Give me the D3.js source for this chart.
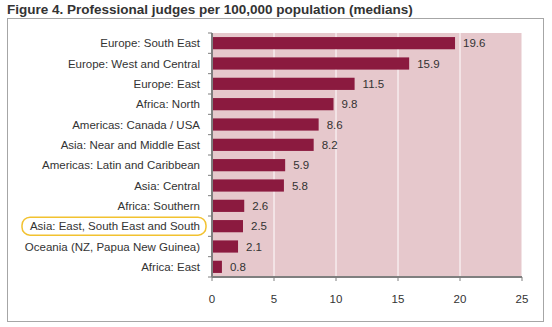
<!DOCTYPE html>
<html><head><meta charset="utf-8">
<script src="https://cdn.jsdelivr.net/npm/d3@7"></script>
<style>body{margin:0;background:#fff}svg{display:block}</style>
</head><body>
<script>
const categories = ["Europe: South East","Europe: West and Central","Europe: East","Africa: North","Americas: Canada / USA","Asia: Near and Middle East","Americas: Latin and Caribbean","Asia: Central","Africa: Southern","Asia: East, South East and South","Oceania (NZ, Papua New Guinea)","Africa: East"];
const values = [19.6,15.9,11.5,9.8,8.6,8.2,5.9,5.8,2.6,2.5,2.1,0.8];
const xTicks = [0,5,10,15,20,25];
const highlighted = "Asia: East, South East and South";

const W=552,H=327;
const svg=d3.select("body").append("svg").attr("width",W).attr("height",H);
const font="Liberation Sans, Arial, sans-serif";

svg.append("text").attr("x",7).attr("y",14).attr("font-family",font).attr("font-weight","bold")
  .attr("font-size",13.5).attr("fill","#333").text("Figure 4. Professional judges per 100,000 population (medians)");

svg.append("rect").attr("x",7.5).attr("y",18.5).attr("width",536).attr("height",303)
  .attr("fill","#fff").attr("stroke","#a6a6a6").attr("stroke-width",1);

const m={l:212,r:522,t:33,b:277};
const x=d3.scaleLinear().domain([0,25]).range([m.l,m.r]);
const y=d3.scaleBand().domain(categories).range([m.t,m.b]).paddingInner(0.4).paddingOuter(0.2);

svg.append("rect").attr("x",m.l).attr("y",m.t).attr("width",m.r-m.l).attr("height",m.b-m.t).attr("fill","#e6c8cc");

svg.append("g").selectAll("line").data(xTicks.slice(1)).join("line")
  .attr("x1",d=>x(d)).attr("x2",d=>x(d)).attr("y1",m.t).attr("y2",m.b)
  .attr("stroke","#fff").attr("stroke-width",1);

svg.append("g").selectAll("rect").data(categories).join("rect")
  .attr("x",x(0)).attr("y",d=>y(d)).attr("height",y.bandwidth())
  .attr("width",(d,i)=>x(values[i])-x(0)).attr("fill","#8b1a3f");

svg.append("g").selectAll("text").data(categories).join("text")
  .attr("x",(d,i)=>x(values[i])+8).attr("y",d=>y(d)+y.bandwidth()/2).attr("dy","0.35em")
  .attr("font-family",font).attr("font-size",11.5).attr("fill","#333").text((d,i)=>values[i]);

// y axis
const yAxis=svg.append("g").attr("transform",`translate(${m.l},0)`);
yAxis.append("line").attr("x1",0).attr("x2",0).attr("y1",m.t).attr("y2",m.b).attr("stroke","#7f7f7f").attr("stroke-width",2);
yAxis.selectAll("line.t").data(d3.range(categories.length+1)).join("line").attr("class","t")
  .attr("x1",-4).attr("x2",0).attr("y1",i=>m.t+i*(m.b-m.t)/categories.length).attr("y2",i=>m.t+i*(m.b-m.t)/categories.length)
  .attr("stroke","#7f7f7f").attr("stroke-width",1);
yAxis.selectAll("text").data(categories).join("text")
  .attr("x",-12).attr("y",d=>y(d)+y.bandwidth()/2).attr("dy","0.35em").attr("text-anchor","end")
  .attr("font-family",font).attr("font-size",11.5).attr("fill","#333").text(d=>d);

// highlight
const hy=y(highlighted)+y.bandwidth()/2;
svg.append("rect").attr("x",22).attr("y",hy-9).attr("width",184).attr("height",18).attr("rx",8)
  .attr("fill","none").attr("stroke","#f2c230").attr("stroke-width",1.5);

// x axis
const xa=svg.append("g").attr("transform",`translate(0,${m.b})`);
xa.append("line").attr("x1",m.l).attr("x2",m.r).attr("stroke","#7f7f7f").attr("stroke-width",2);
xa.selectAll("line.t").data(xTicks).join("line").attr("class","t").attr("x1",d=>x(d)).attr("x2",d=>x(d)).attr("y1",0).attr("y2",4).attr("stroke","#7f7f7f");
xa.selectAll("text").data(xTicks).join("text").attr("x",d=>x(d)).attr("y",22).attr("dy","0.35em").attr("text-anchor","middle")
  .attr("font-family",font).attr("font-size",11.5).attr("fill","#333").text(d=>d);
</script>
</body></html>
